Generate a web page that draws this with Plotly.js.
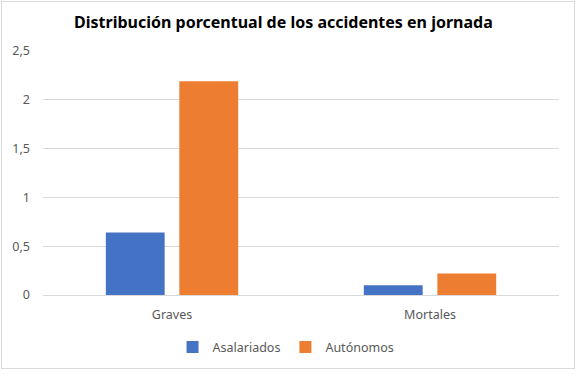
<!DOCTYPE html>
<html><head><meta charset="utf-8">
<script src="https://cdn.plot.ly/plotly-3.0.1.min.js"></script>
<style>
body{margin:0;background:#fff;}
#wrap{position:absolute;left:1px;top:1px;width:572px;height:366px;border:1px solid #d9d9d9;}
#chart{width:572px;height:366px;}
</style></head>
<body><div id="wrap"><div id="chart"></div></div>
<script>
const categories = ["Graves", "Mortales"];
const asalariados = [0.64, 0.10];
const autonomos = [2.19, 0.22];
const yTicks = [0, 0.5, 1, 1.5, 2, 2.5];
const yTickLabels = ["0", "0,5", "1", "1,5", "2", "2,5"];

const font = "Noto Sans, Liberation Sans, sans-serif";
const traces = [
  {type:"bar", name:"Asalariados", x:categories, y:asalariados, marker:{color:"#4472c4"}},
  {type:"bar", name:"Autónomos", x:categories, y:autonomos, marker:{color:"#ed7d31"}}
];
const layout = {
  width:572, height:366,
  margin:{l:41, r:15, t:49, b:73, autoexpand:false},
  paper_bgcolor:"#fff", plot_bgcolor:"#fff",
  font:{family:font, size:12, color:"#595959"},
  title:{text:"<b>Distribución porcentual de los accidentes en jornada</b>", font:{family:font, size:16, color:"#000"}, x:0.492, xanchor:"center", xref:"container", y:0.945, yanchor:"middle", yref:"container"},
  barmode:"group", bargap:0.43, bargroupgap:0.2,
  xaxis:{showgrid:false, zeroline:false, showline:false, ticks:"", ticklabelstandoff:10, tickfont:{size:12.5, color:"#595959"}},
  yaxis:{range:[0,2.5], tickvals:yTicks, ticktext:yTickLabels, showgrid:true, gridcolor:"#d9d9d9", gridwidth:1, zeroline:true, zerolinecolor:"#d9d9d9", zerolinewidth:1, showline:false, ticks:"", ticklabelstandoff:12, tickfont:{size:12.5, color:"#595959"}},
  showlegend:true,
  legend:{orientation:"h", x:0.471, xanchor:"center", y:-0.215, yanchor:"middle", font:{size:12.5, color:"#595959"}, itemwidth:30, tracegroupgap:0}
};
Plotly.newPlot("chart", traces, layout, {displayModeBar:false, staticPlot:true});
</script></body></html>
